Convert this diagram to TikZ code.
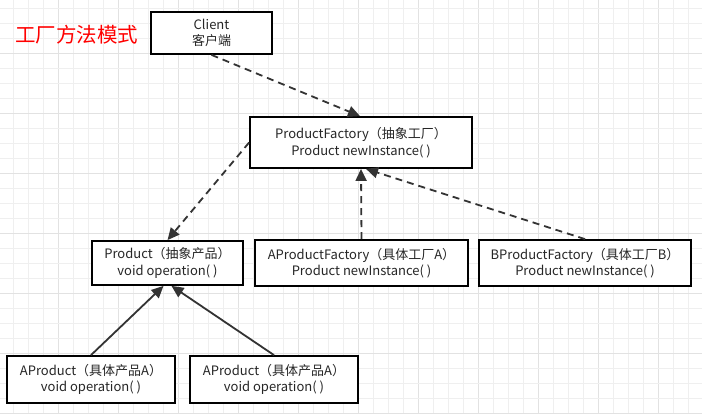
\documentclass[tikz,border=0pt]{standalone}
\usepackage{fontspec}
\setmainfont{Noto Sans CJK SC}
\usepackage{xcolor}
\usepackage{tikz}
\usetikzlibrary{arrows.meta, positioning, calc}
\definecolor{gridminor}{HTML}{EFEFEF}
\definecolor{gridmajor}{HTML}{E2E2E2}
\definecolor{linkgray}{HTML}{333333}
\tikzset{
    classbox/.style={draw=black, line width=1.8pt, fill=white, align=center,
        font=\fontsize{13pt}{16.5pt}\selectfont, text=black!85, inner sep=0pt},
    implink/.style={draw=linkgray, line width=1.8pt, dash pattern=on 7pt off 5pt,
        -{Triangle[length=12pt, width=11pt]}},
    inhlink/.style={draw=linkgray, line width=1.8pt,
        -{Triangle[length=12pt, width=11pt]}}
}

\begin{document}
\begin{tikzpicture}[x=1pt, y=-1pt]
            \useasboundingbox (0,0) rectangle (702,413);
            \fill[white] (0,0) rectangle (702,413);
            % background grid
            \foreach \i in {0,...,46} {
                \pgfmathsetmacro\gx{13.5+15*\i}
                \ifnum\numexpr\i-3\relax=\numexpr((\i-3)/4)*4\relax
                    \draw[gridmajor, line width=0.9pt] (\gx,0) -- (\gx,413);
                \else
                    \draw[gridminor, line width=0.9pt] (\gx,0) -- (\gx,413);
                \fi
            }
            \foreach \i in {0,...,27} {
                \pgfmathsetmacro\gy{8.3+15*\i}
                \ifnum\numexpr\i-3\relax=\numexpr((\i-3)/4)*4\relax
                    \draw[gridmajor, line width=0.9pt] (0,\gy) -- (702,\gy);
                \else
                    \draw[gridminor, line width=0.9pt] (0,\gy) -- (702,\gy);
                \fi
            }

            \node[text=red, font=\fontsize{20.5pt}{24pt}\selectfont] (title) at (77,35) {工厂方法模式};

            \node[classbox, minimum width=121pt, minimum height=42pt] (client) at (211.5,33) {Client\\客户端};
            \node[classbox, minimum width=222pt, minimum height=51pt] (factory) at (361,142.5) {ProductFactory（抽象工厂）\\Product newInstance( )};
            \node[classbox, minimum width=151pt, minimum height=44pt] (product) at (167.5,263) {Product（抽象产品）\\void operation( )};
            \node[classbox, minimum width=213pt, minimum height=46pt] (afactory) at (361.5,263) {AProductFactory（具体工厂A）\\Product newInstance( )};
            \node[classbox, minimum width=212pt, minimum height=46pt] (bfactory) at (585,263) {BProductFactory（具体工厂B）\\Product newInstance( )};
            \node[classbox, minimum width=168pt, minimum height=47pt] (aprodone) at (91,379.5) {AProduct（具体产品A）\\void operation( )};
            \node[classbox, minimum width=168pt, minimum height=47pt] (aprodtwo) at (274,379.5) {AProduct（具体产品A）\\void operation( )};

            \draw[implink] (client.south) -- ([xshift=-1pt]factory.north);
            \draw[implink] (factory.west) -- (product.north);
            \draw[implink] (afactory.north) -- (factory.south);
            \draw[implink] (bfactory.north) -- ([xshift=5pt]factory.south);
            \draw[inhlink] (aprodone.north) -- ([xshift=-4pt]product.south);
            \draw[inhlink] (aprodtwo.north) -- ([xshift=4pt]product.south);
        \end{tikzpicture}
\end{document}
